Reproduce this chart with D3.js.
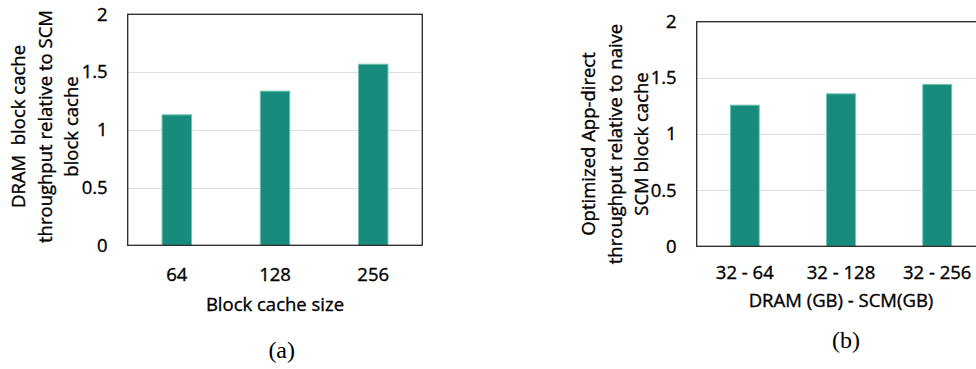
<!DOCTYPE html>
<html><head><meta charset="utf-8">
<script src="https://cdn.jsdelivr.net/npm/d3@7"></script>
<style>
html,body{margin:0;padding:0;background:#fff;}
svg{display:block;}
text{font-family:"Open Sans",sans-serif;fill:#000;white-space:pre;}
text.sans{stroke:#000;stroke-width:0.35px;}
</style></head>
<body>
<svg id="chart" width="976" height="369"></svg>
<script>
// ---- data ----
const categoriesA = ["64", "128", "256"];
const valuesA = [1.134, 1.339, 1.572];
const categoriesB = ["32 - 64", "32 - 128", "32 - 256"];
const valuesB = [1.261, 1.362, 1.445];
const yTicks = [0, 0.5, 1, 1.5, 2];
const yTickLabels = ["0", "0.5", "1", "1.5", "2"];
const xTitleA = "Block cache size";
const xTitleB = "DRAM (GB) - SCM(GB)";
const yTitleA = ["DRAM  block cache", "throughput relative to SCM", "block cache"];
const yTitleB = ["Optimized App-direct", "throughput relative to naive", "SCM block cache"];
const captionA = "(a)";
const captionB = "(b)";

const svg = d3.select("#chart");
const FS = 18.5;

function panel(cfg) {
  const g = svg.append("g");
  const x = d3.scaleBand().domain(cfg.cats).range([cfg.left, cfg.right])
    .paddingInner(0.69).paddingOuter(0.345);
  const y = d3.scaleLinear().domain([0, 2]).range([cfg.bottom, cfg.top]);

  // gridlines
  g.append("g").selectAll("line").data(yTicks.filter(t => t > 0 && t < 2)).join("line")
    .attr("x1", cfg.left).attr("x2", cfg.right)
    .attr("y1", d => Math.round(y(d)) + 0.5).attr("y2", d => Math.round(y(d)) + 0.5)
    .attr("stroke", "#e0e0e0").attr("stroke-width", 1.2);

  // bars
  g.append("g").selectAll("rect").data(cfg.vals).join("rect")
    .attr("x", (d, i) => x(cfg.cats[i]) + 0.5)
    .attr("width", x.bandwidth() - 1)
    .attr("y", d => y(d) + 0.5)
    .attr("height", d => y(0) - y(d) - 0.5)
    .attr("fill", "#178c7c")
    .attr("stroke", "#6cc2b2").attr("stroke-width", 1);

  // frame
  g.append("rect").attr("x", cfg.left).attr("y", cfg.top)
    .attr("width", cfg.right - cfg.left).attr("height", cfg.bottom - cfg.top)
    .attr("fill", "none").attr("stroke", "#262626").attr("stroke-width", 1.3);

  // y axis labels
  const yAxis = d3.axisLeft(y).tickValues(yTicks)
    .tickFormat((d, i) => yTickLabels[i]).tickSize(0).tickPadding(20);
  const ya = g.append("g").attr("transform", `translate(${cfg.left},0)`).call(yAxis);
  ya.select(".domain").remove();
  ya.selectAll("text").attr("class", "sans").attr("font-family", "Open Sans")
    .attr("font-size", FS).attr("fill", "#000");

  // x axis labels
  const xAxis = d3.axisBottom(x).tickSize(0).tickPadding(cfg.xPad);
  const xa = g.append("g").attr("transform", `translate(0,${cfg.bottom})`).call(xAxis);
  xa.select(".domain").remove();
  xa.selectAll("text").attr("class", "sans").attr("font-family", "Open Sans")
    .attr("font-size", FS).attr("fill", "#000");

  // x title
  g.append("text").attr("class", "sans")
    .attr("x", (cfg.left + cfg.right) / 2).attr("y", cfg.xTitleY)
    .attr("text-anchor", "middle").attr("font-size", FS).text(cfg.xTitle);

  // y title (rotated, 3 lines)
  cfg.yTitle.forEach((t, i) => {
    g.append("text").attr("class", "sans")
      .attr("transform", `translate(${cfg.yTitleX[i]},${cfg.yTitleCY}) rotate(-90)`)
      .attr("text-anchor", "middle").attr("font-size", FS).text(t);
  });

  // caption
  g.append("text").attr("x", cfg.capX).attr("y", cfg.capY)
    .attr("text-anchor", "middle")
    .style("font-family", "'Liberation Serif', serif")
    .attr("font-size", 24).text(cfg.caption);
}

panel({
  cats: categoriesA, vals: valuesA,
  left: 127.7, right: 422.3, top: 14.3, bottom: 245.3,
  xPad: 23, xTitle: xTitleA, xTitleY: 310.5,
  yTitle: yTitleA, yTitleX: [25, 51.5, 78], yTitleCY: 126.5,
  caption: captionA, capX: 281.7, capY: 358
});

panel({
  cats: categoriesB, vals: valuesB,
  left: 696.7, right: 985.3, top: 21.7, bottom: 246.3,
  xPad: 20, xTitle: xTitleB, xTitleY: 307,
  yTitle: yTitleB, yTitleX: [595, 621.5, 648], yTitleCY: 144,
  caption: captionB, capX: 846, capY: 348
});
</script>
</body></html>
